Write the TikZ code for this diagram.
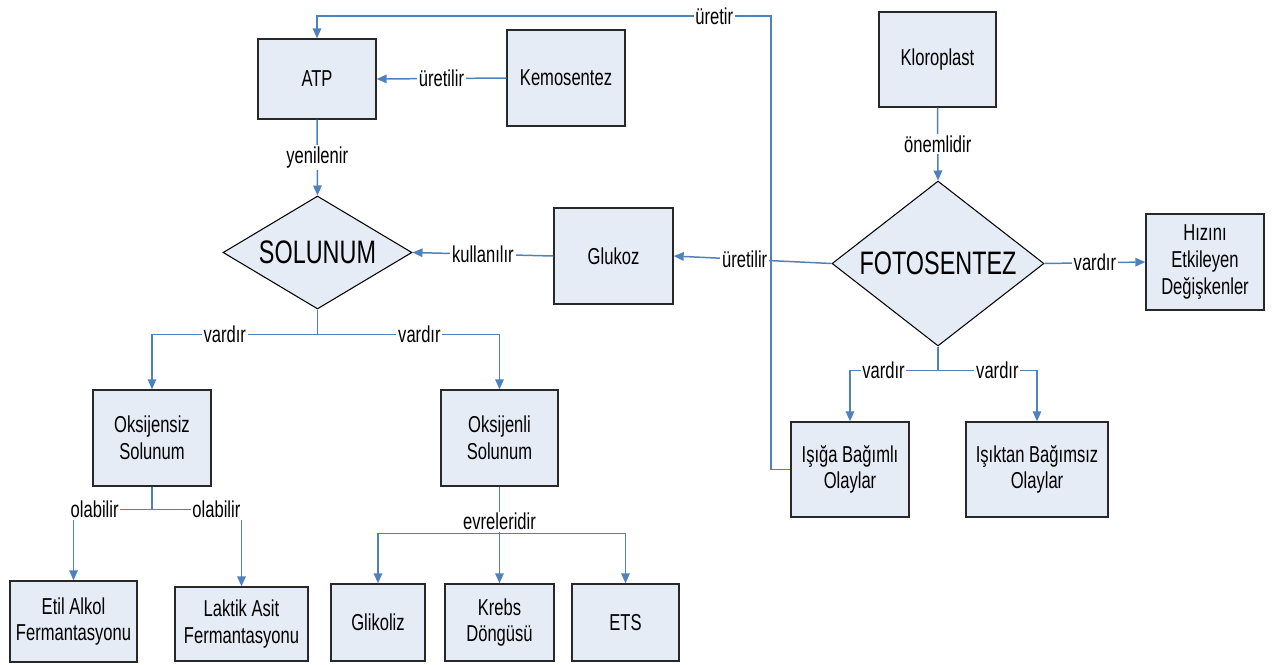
\documentclass[tikz,border=0pt]{standalone}
\usepackage{fontspec}
\setmainfont{Liberation Sans}[FakeStretch=0.72]
\usepackage{xcolor}
\usepackage{tikz}
\usetikzlibrary{arrows.meta,shapes.geometric,positioning,calc}

\definecolor{linkblue}{RGB}{79,129,189}
\definecolor{boxfill}{RGB}{230,236,246}
\definecolor{boxedge}{RGB}{40,40,40}

\begin{document}
\begin{tikzpicture}[x=0.02cm, y=-0.02cm,
		box/.style={draw=boxedge, fill=boxfill, line width=0.8pt, align=center, inner sep=0pt, font=\fontsize{13.1}{15.2}\selectfont},
		bigdiamond/.style={diamond, draw=black, fill=boxfill, line width=0.6pt, inner sep=0pt, font=\fontsize{18.5}{22}\selectfont},
		link/.style={draw=linkblue, line width=0.85pt},
		arr/.style={link, -{Triangle[length=0.2cm, width=0.17cm]}},
		lbl/.style={fill=white, inner sep=1pt, font=\fontsize{13.1}{15.2}\selectfont}]
		\useasboundingbox (0,0) rectangle (1281,664);

		% boxes
		\node[box, minimum width=2.36cm, minimum height=1.6cm] (atp) at (317,79) {ATP};
		\node[box, minimum width=2.36cm, minimum height=1.92cm] (kemo) at (566,78) {Kemosentez};
		\node[box, minimum width=2.34cm, minimum height=1.9cm] (klor) at (937.5,59.5) {Kloroplast};
		\node[bigdiamond, shape aspect=1.67, minimum width=3.78cm, minimum height=2.26cm] (sol) at (317.5,252.5) {SOLUNUM};
		\node[box, minimum width=2.38cm, minimum height=1.92cm] (glu) at (613.5,256) {Glukoz};
		\node[bigdiamond, shape aspect=1.28, minimum width=4.24cm, minimum height=3.3cm] (foto) at (938,263.5) {FOTOSENTEZ};
		\node[box, minimum width=2.36cm, minimum height=1.92cm] (hiz) at (1205,262) {Hızını\\Etkileyen\\Değişkenler};
		\node[box, minimum width=2.36cm, minimum height=1.92cm] (oksz) at (152,438) {Oksijensiz\\Solunum};
		\node[box, minimum width=2.34cm, minimum height=1.92cm] (okl) at (499.5,438) {Oksijenli\\Solunum};
		\node[box, minimum width=2.36cm, minimum height=1.9cm] (isiga) at (850,469.5) {Işığa Bağımlı\\Olaylar};
		\node[box, minimum width=2.84cm, minimum height=1.9cm] (isiktan) at (1037,469.5) {Işıktan Bağımsız\\Olaylar};
		\node[box, minimum width=2.54cm, minimum height=1.62cm] (etil) at (73.5,621.5) {Etil Alkol\\Fermantasyonu};
		\node[box, minimum width=2.66cm, minimum height=1.48cm] (laktik) at (241.5,624) {Laktik Asit\\Fermantasyonu};
		\node[box, minimum width=1.88cm, minimum height=1.54cm] (glik) at (378,622.5) {Glikoliz};
		\node[box, minimum width=2.18cm, minimum height=1.54cm] (krebs) at (499.5,622.5) {Krebs\\Döngüsü};
		\node[box, minimum width=2.14cm, minimum height=1.54cm] (ets) at (625.5,622.5) {ETS};

		% straight links
		\draw[arr] (kemo.west) -- node[lbl]{üretilir} (atp.east);
		\draw[arr] (atp.south) -- node[lbl]{yenilenir} (sol.north);
		\draw[arr] (glu.west) -- node[lbl]{kullanılır} (sol.east);
		\draw[arr] (foto.west) -- node[lbl, pos=0.55]{üretilir} (glu.east);
		\draw[arr] (klor.south) -- node[lbl]{önemlidir} (foto.north);
		\draw[arr] (foto.east) -- node[lbl]{vardır} (hiz.west);

		% long link back to ATP
		\coordinate (top) at (771,16);
		\draw[arr] (isiga.west) -| (top) -- node[lbl, pos=0.125]{üretir} (atp.north |- top) -- (atp.north);

		% branches
		\coordinate (fj) at ($(foto.south)+(0,24)$);
		\draw[link] (foto.south) -- (fj);
		\draw[arr] (fj) -| node[lbl, pos=0.31]{vardır} (isiga.north);
		\draw[arr] (fj) -| node[lbl, pos=0.3]{vardır} (isiktan.north);

		\coordinate (sj) at ($(sol.south)+(0,25)$);
		\draw[link] (sol.south) -- (sj);
		\draw[arr] (sj) -| node[lbl, pos=0.28]{vardır} (oksz.north);
		\draw[arr] (sj) -| node[lbl, pos=0.28]{vardır} (okl.north);

		\coordinate (oj) at ($(oksz.south)+(0,23)$);
		\draw[link] (oksz.south) -- (oj);
		\draw[arr] (oj) -| node[lbl, pos=0.365]{olabilir} (etil.north);
		\draw[arr] (oj) -| node[lbl, pos=0.36]{olabilir} (laktik.north);

		\coordinate (ej) at ($(okl.south)+(0,47)$);
		\draw[arr] (ej) -| (glik.north);
		\draw[arr] (ej) -- (ej |- krebs.north);
		\draw[arr] (ej) -| (ets.north);
		\draw[link] (okl.south) -- node[lbl, pos=0.745]{evreleridir} (ej);
	\end{tikzpicture}
\end{document}
